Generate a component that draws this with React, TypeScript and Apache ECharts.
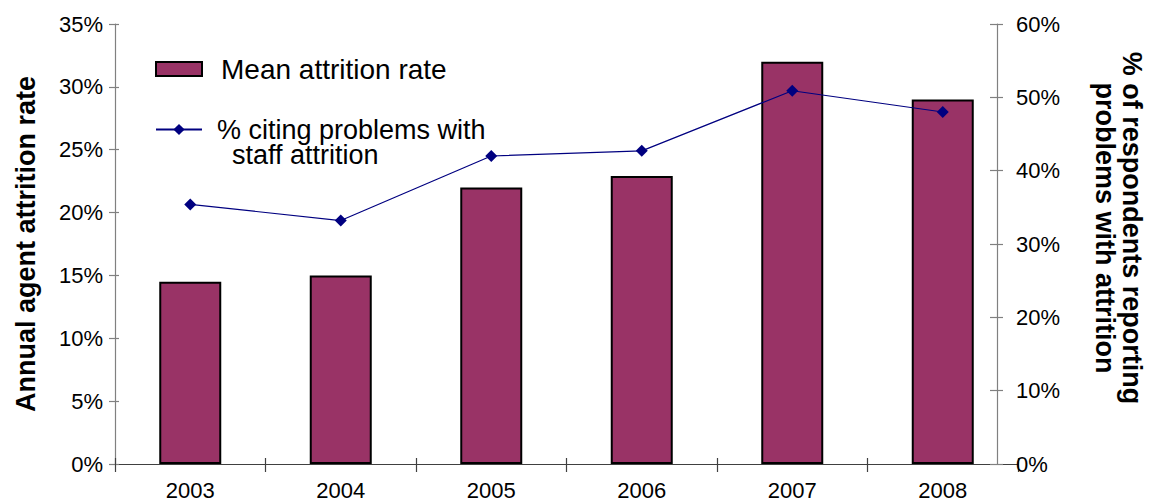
import React, { useEffect, useRef } from "react";
import * as echarts from "echarts";

// Survey years on the category axis
const years = ["2003", "2004", "2005", "2006", "2007", "2008"];
// Mean annual agent attrition rate (%), left axis
const meanAttrition = [14.5, 15.0, 22.0, 22.9, 32.0, 29.0];
// Share of respondents citing problems with staff attrition (%), right axis
const citingProblems = [35.4, 33.2, 42.0, 42.7, 50.9, 48.0];

const leftTicks = { min: 0, max: 35, interval: 5 };
const rightTicks = { min: 0, max: 60, interval: 10 };

const BAR_NAME = "Mean attrition rate";
const LINE_NAME = "% citing problems with\n  staff attrition";

const FONT = "Liberation Sans, Arial, sans-serif";
const AXIS_GREY = "#808080";
const AXIS_DARK = "#404040";

export default function App() {
  const ref = useRef<HTMLDivElement>(null);

  useEffect(() => {
    document.body.style.margin = "0";
    if (!ref.current) return;
    const chart = echarts.init(ref.current, undefined, { renderer: "svg" });

    const tickLabel = { fontFamily: FONT, fontSize: 22, color: "#000" };
    const titleStyle = { fontFamily: FONT, fontSize: 27, fontWeight: "bold", color: "#000" };

    chart.setOption({
      animation: false,
      backgroundColor: "#ffffff",
      textStyle: { fontFamily: FONT, color: "#000" },
      grid: {
        left: 115,
        right: 138,
        top: 24,
        bottom: 40,
        containLabel: false,
        outerBoundsMode: "none",
      },
      legend: [
        {
          data: [BAR_NAME],
          left: 155,
          top: 55,
          padding: 0,
          orient: "vertical",
          icon: "rect",
          itemWidth: 46,
          itemHeight: 14,
          selectedMode: false,
          textStyle: {
            fontFamily: FONT,
            fontSize: 28,
            lineHeight: 28,
            color: "#000",
            padding: [0, 0, 0, 14],
          },
        },
        {
          // a blank leading line keeps the icon level with the first text line
          data: [LINE_NAME],
          left: 155,
          top: 91,
          padding: 0,
          orient: "vertical",
          itemWidth: 46,
          itemHeight: 14,
          selectedMode: false,
          formatter: (name: string) => " \n" + name,
          textStyle: {
            fontFamily: FONT,
            fontSize: 27,
            lineHeight: 25,
            color: "#000",
            padding: [0, 0, 0, 10],
          },
        },
      ],
      xAxis: [
        {
          type: "category",
          data: years,
          boundaryGap: true,
          axisLine: { show: true, lineStyle: { color: AXIS_DARK, width: 1.2 } },
          axisTick: { show: true, length: 8, lineStyle: { color: AXIS_DARK, width: 1.2 } },
          axisLabel: { ...tickLabel, margin: 15 },
          splitLine: { show: false },
        },
        {
          // inner half of the crossing category ticks
          type: "category",
          data: years,
          position: "bottom",
          boundaryGap: true,
          axisLine: { show: false },
          axisTick: { show: true, inside: true, length: 6, lineStyle: { color: AXIS_DARK, width: 1.2 } },
          axisLabel: { show: false },
          splitLine: { show: false },
        },
      ],
      yAxis: [
        {
          type: "value",
          position: "left",
          ...leftTicks,
          name: "Annual agent attrition rate",
          nameLocation: "middle",
          nameGap: 76,
          nameTextStyle: titleStyle,
          axisLine: { show: true, lineStyle: { color: AXIS_GREY, width: 1.2 } },
          axisTick: { show: true, length: 6, lineStyle: { color: AXIS_GREY, width: 1.2 } },
          axisLabel: { ...tickLabel, margin: 12, formatter: "{value}%" },
          splitLine: { show: false },
        },
        {
          type: "value",
          position: "right",
          offset: -21,
          ...rightTicks,
          name: "% of respondents reporting\nproblems with attrition",
          nameLocation: "middle",
          nameRotate: -90,
          nameGap: 94,
          nameTextStyle: { ...titleStyle, lineHeight: 27, align: "center", padding: [0, 32, 0, 0] },
          axisLine: { show: true, lineStyle: { color: AXIS_GREY, width: 1.2 } },
          axisTick: { show: true, length: 6, lineStyle: { color: AXIS_GREY, width: 1.2 } },
          axisLabel: { ...tickLabel, margin: 19, formatter: "{value}%" },
          splitLine: { show: false },
        },
        {
          // inner half of the crossing ticks on the left axis
          type: "value",
          position: "left",
          ...leftTicks,
          axisLine: { show: false },
          axisTick: { show: true, inside: true, length: 4, lineStyle: { color: AXIS_GREY, width: 1.2 } },
          axisLabel: { show: false },
          splitLine: { show: false },
        },
        {
          // inner half of the crossing ticks on the right axis
          type: "value",
          position: "right",
          offset: -21,
          ...rightTicks,
          axisLine: { show: false },
          axisTick: { show: true, inside: true, length: 7, lineStyle: { color: AXIS_GREY, width: 1.2 } },
          axisLabel: { show: false },
          splitLine: { show: false },
        },
      ],
      series: [
        {
          name: BAR_NAME,
          type: "bar",
          xAxisIndex: 0,
          yAxisIndex: 0,
          data: meanAttrition,
          barWidth: 62,
          itemStyle: { color: "#993366", borderColor: "#000", borderWidth: 2 },
        },
        {
          name: LINE_NAME,
          type: "line",
          xAxisIndex: 0,
          yAxisIndex: 1,
          data: citingProblems,
          symbol: "diamond",
          symbolSize: 12,
          lineStyle: { color: "#000080", width: 1.2 },
          itemStyle: { color: "#000080" },
          z: 5,
        },
      ],
    });
    return () => chart.dispose();
  }, []);

  return <div ref={ref} style={{ width: 1156, height: 504 }} />;
}
